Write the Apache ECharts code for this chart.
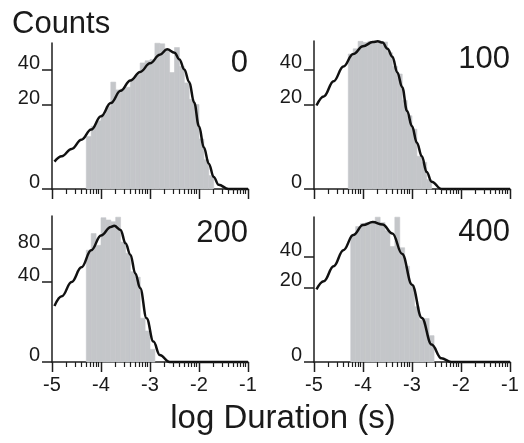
<!DOCTYPE html>
<html>
<head>
<meta charset="utf-8">
<script src="https://cdn.jsdelivr.net/npm/echarts@6/dist/echarts.min.js"></script>
<style>
  html, body { margin: 0; padding: 0; background: #fff; }
  #chart { width: 524px; height: 443px; }
</style>
</head>
<body>
<div id="chart"></div>
<script>
// histogram bins (left edges, log10 s) and counts
const BIN_WIDTH = 0.1

const TL_BIN_X = [-4.3, -4.2, -4.1, -4.0, -3.9, -3.8, -3.7, -3.6, -3.5, -3.4, -3.3, -3.2, -3.1, -3.0, -2.9, -2.8, -2.7, -2.6, -2.5, -2.4, -2.3, -2.2, -2.1, -2.0, -1.9, -1.8]
const TL_COUNTS = [7.7, 11, 13, 15.5, 19, 32, 27.5, 28, 29, 33.5, 36.5, 44.5, 46, 47, 59.5, 59, 54.5, 38, 56, 42, 31.5, 22.5, 20, 7, 2.4, 0.5]

const TR_BIN_X = [-4.3, -4.2, -4.1, -4.0, -3.9, -3.8, -3.7, -3.6, -3.5, -3.4, -3.3, -3.2, -3.1, -3.0, -2.9, -2.8, -2.7]
const TR_COUNTS = [51, 55, 61, 60, 61, 61, 61, 60.5, 52, 42, 37, 22, 15, 10, 3, 2, 0.25]

const BL_BIN_X = [-4.3, -4.2, -4.1, -4.0, -3.9, -3.8, -3.7, -3.6, -3.5, -3.4, -3.3, -3.2, -3.1, -3.0]
const BL_COUNTS = [78, 103, 85, 130, 126, 123, 131, 90, 74, 51, 45, 12, 6, 1]

const BR_BIN_X = [-4.25, -4.15, -4.05, -3.95, -3.85, -3.75, -3.65, -3.55, -3.45, -3.35, -3.25, -3.15, -3.05, -2.95, -2.85, -2.75, -2.65]
const BR_COUNTS = [58, 66, 69, 70, 70.5, 75.5, 70, 62, 48, 75.5, 47, 33, 21, 11, 6.3, 6.8, 2.5]

// fitted curves
const TL_CURVE_X = [-4.95, -4.8, -4.6, -4.4, -4.2, -4.0, -3.8, -3.6, -3.4, -3.2, -3.0, -2.8, -2.65, -2.5, -2.4, -2.3, -2.2, -2.1, -2.0, -1.9, -1.8, -1.7, -1.6, -1.4, -1.0]
const TL_CURVE_Y = [2.1, 3.0, 4.5, 6.8, 9.9, 14.8, 20.7, 27, 33, 38.4, 44.2, 50.4, 54.7, 52, 47, 40, 32, 21, 11, 4.8, 1.8, 0.4, 0.05, 0, 0]

const TR_CURVE_X = [-4.95, -4.8, -4.6, -4.4, -4.2, -4.0, -3.8, -3.7, -3.6, -3.5, -3.4, -3.3, -3.2, -3.1, -3.0, -2.9, -2.8, -2.7, -2.6, -2.4, -1.0]
const TR_CURVE_Y = [19.5, 24, 32.5, 42, 51, 57, 60.5, 61, 60, 55, 49, 38, 29, 17, 11, 6, 3, 0.8, 0.15, 0, 0]

const BL_CURVE_X = [-4.95, -4.8, -4.6, -4.4, -4.2, -4.0, -3.8, -3.73, -3.6, -3.5, -3.4, -3.3, -3.2, -3.07, -2.93, -2.8, -2.6, -1.0]
const BL_CURVE_Y = [19.6, 27, 40, 56, 78, 100, 114, 116, 109, 88, 72, 49, 34, 12, 2.6, 0.3, 0, 0]

const BR_CURVE_X = [-4.95, -4.8, -4.6, -4.4, -4.2, -4.0, -3.8, -3.6, -3.4, -3.2, -3.0, -2.8, -2.6, -2.4, -2.2, -1.0]
const BR_CURVE_Y = [19, 23.5, 33, 45, 58, 67.5, 70.5, 68, 59.5, 42, 21.5, 7, 1.1, 0.05, 0, 0]

// axes
const X_MIN = -5
const X_MAX = -1
const X_MAJOR = [-5, -4, -3, -2, -1]
const X_MINOR = [
  -4.699, -4.523, -4.398, -4.301, -4.222, -4.155, -4.097, -4.046,
  -3.699, -3.523, -3.398, -3.301, -3.222, -3.155, -3.097, -3.046,
  -2.699, -2.523, -2.398, -2.301, -2.222, -2.155, -2.097, -2.046,
  -1.699, -1.523, -1.398, -1.301, -1.222, -1.155, -1.097, -1.046,
]

const TL_TICKS = [0, 20, 40]
const TR_TICKS = [0, 20, 40]
const BL_TICKS = [0, 40, 80]
const BR_TICKS = [0, 20, 40]
const TL_Y_MAX = 59.7
const TR_Y_MAX = 61.3
const BL_Y_MAX = 133.2
const BR_Y_MAX = 75.7

const BAR_COLOR = '#c4c6c9'
const INK = '#1a1a1a'
const AXIS_COLOR = '#1e1e1e'
const FONT = '"Liberation Sans", Arial, sans-serif'
const MAJOR_TICK_LEN = 10
const MINOR_TICK_LEN = 5

const PANELS = [
  { name: '0', bins: TL_BIN_X, counts: TL_COUNTS, cx: TL_CURVE_X, cy: TL_CURVE_Y, ticks: TL_TICKS, yMax: TL_Y_MAX,
    grid: { left: 52, top: 43, width: 196, height: 146 }, xLabels: false, labelAt: [248, 63] },
  { name: '100', bins: TR_BIN_X, counts: TR_COUNTS, cx: TR_CURVE_X, cy: TR_CURVE_Y, ticks: TR_TICKS, yMax: TR_Y_MAX,
    grid: { left: 314, top: 41, width: 196, height: 148 }, xLabels: false, labelAt: [510, 59] },
  { name: '200', bins: BL_BIN_X, counts: BL_COUNTS, cx: BL_CURVE_X, cy: BL_CURVE_Y, ticks: BL_TICKS, yMax: BL_Y_MAX,
    grid: { left: 52, top: 216, width: 196, height: 146 }, xLabels: true, labelAt: [248, 233] },
  { name: '400', bins: BR_BIN_X, counts: BR_COUNTS, cx: BR_CURVE_X, cy: BR_CURVE_Y, ticks: BR_TICKS, yMax: BR_Y_MAX,
    grid: { left: 314, top: 217, width: 196, height: 145 }, xLabels: true, labelAt: [510, 232] },
]

const tickFont = { fontSize: 20, color: INK, fontFamily: FONT }

const chart = echarts.init(document.getElementById('chart'), null, { renderer: 'canvas' })

const grids = []
const xAxes = []
const yAxes = []
const series = []
const graphics = [
  { type: 'text', x: 12, y: 24, style: { text: 'Counts', fontSize: 31, fontFamily: FONT, fill: INK, align: 'left', verticalAlign: 'middle' } },
  { type: 'text', x: 283, y: 419, style: { text: 'log Duration (s)', fontSize: 33, fontFamily: FONT, fill: INK, align: 'center', verticalAlign: 'middle' } },
]

// all x ticks (major and log-spaced minor) in one series, hanging under the axis line
const tickData = [...X_MAJOR.map((v) => [v, 1]), ...X_MINOR.map((v) => [v, 0])]
const tickSeries = (i) => ({
  type: 'custom', xAxisIndex: i, yAxisIndex: i, z: 10, zlevel: 1, silent: true, clip: false,
  data: tickData,
  encode: { x: 0 },
  renderItem: (params, api) => {
    const pt = api.coord([api.value(0), 0])
    const major = api.value(1) === 1
    const x = Math.round(pt[0] - 0.5) + 0.5
    return {
      type: 'line',
      shape: { x1: x, y1: pt[1], x2: x, y2: pt[1] + (major ? MAJOR_TICK_LEN : MINOR_TICK_LEN) },
      style: { stroke: AXIS_COLOR, lineWidth: major ? 1.5 : 1.2 },
    }
  },
})

PANELS.forEach((p, i) => {
  grids.push({ ...p.grid, containLabel: false })
  xAxes.push({
    type: 'value', gridIndex: i, position: 'bottom', min: X_MIN, max: X_MAX, interval: 1,
    axisLine: { show: true, onZero: false, lineStyle: { color: AXIS_COLOR, width: 1.5 } },
    axisTick: { show: false },
    axisLabel: { show: p.xLabels, margin: 14, lineHeight: 19, ...tickFont },
    splitLine: { show: false },
  })
  const sqrtTicks = p.ticks.map(Math.sqrt)
  yAxes.push({
    type: 'value', gridIndex: i, position: 'left', min: 0, max: Math.sqrt(p.yMax),
    axisLine: { show: true, onZero: false, lineStyle: { color: AXIS_COLOR, width: 1.5 } },
    axisTick: { show: true, length: 10, customValues: sqrtTicks, lineStyle: { color: AXIS_COLOR, width: 1.5 } },
    axisLabel: {
      customValues: sqrtTicks, margin: 12, verticalAlign: 'bottom', lineHeight: 13,
      formatter: (v) => String(Math.round(v * v)), ...tickFont,
    },
    splitLine: { show: false },
  })
  // histogram
  series.push({
    type: 'custom', xAxisIndex: i, yAxisIndex: i, z: 2,
    data: p.bins.map((x0, k) => [x0, x0 + BIN_WIDTH, Math.sqrt(p.counts[k])]),
    encode: { x: [0, 1], y: 2 },
    renderItem: (params, api) => {
      const a = api.coord([api.value(0), api.value(2)])
      const b = api.coord([api.value(1), 0])
      return {
        type: 'rect',
        shape: { x: a[0], y: a[1], width: b[0] - a[0], height: b[1] - a[1] },
        style: { fill: BAR_COLOR, stroke: BAR_COLOR, lineWidth: 0.6 },
      }
    },
  })
  series.push(tickSeries(i))
  // fitted curve
  series.push({
    type: 'line', xAxisIndex: i, yAxisIndex: i, z: 3,
    data: p.cx.map((x, k) => [x, Math.sqrt(p.cy[k])]),
    smooth: 0.4, smoothMonotone: 'x', symbol: 'none', clip: false,
    lineStyle: { color: '#111', width: 2.5 },
  })
  graphics.push({
    type: 'text', x: p.labelAt[0], y: p.labelAt[1],
    style: { text: p.name, fontSize: 31, fontFamily: FONT, fill: INK, align: 'right', verticalAlign: 'middle' },
  })
})

chart.setOption({
  animation: false,
  backgroundColor: '#fff',
  grid: grids,
  xAxis: xAxes,
  yAxis: yAxes,
  series,
  graphic: graphics,
})
</script>
</body>
</html>
